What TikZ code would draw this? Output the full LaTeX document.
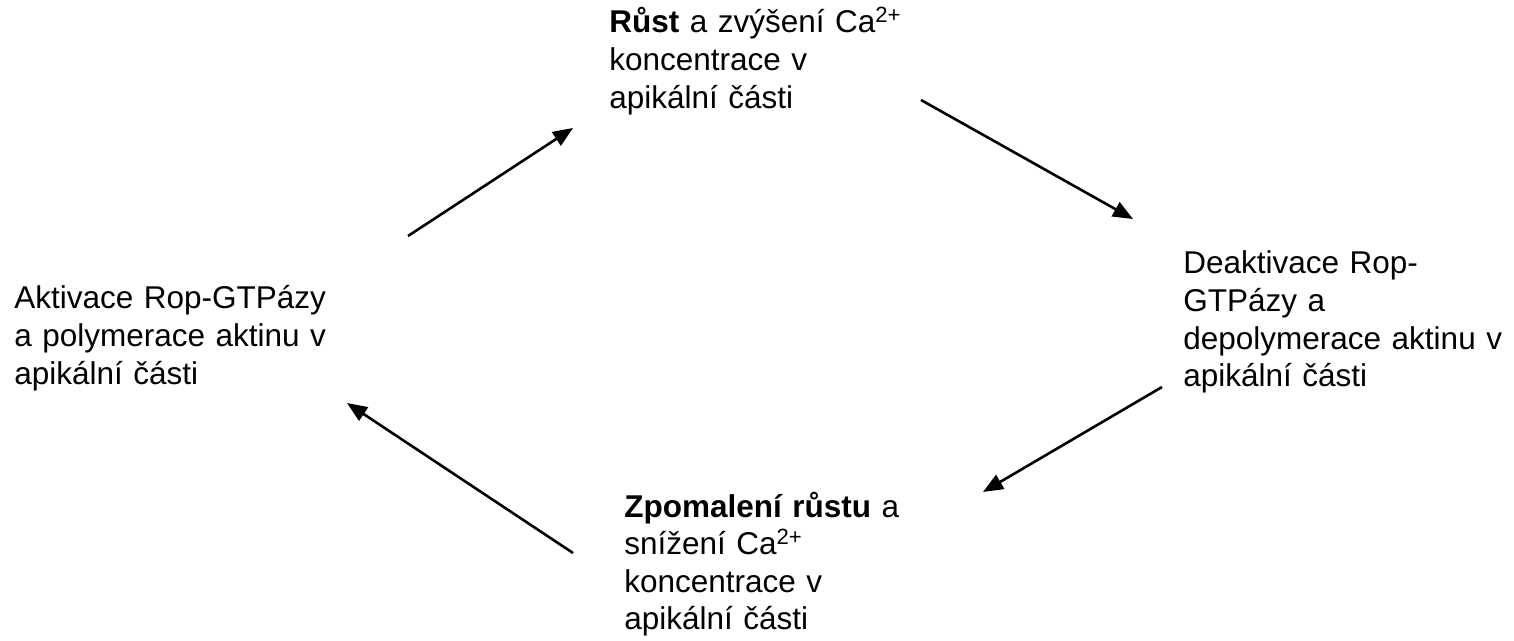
\documentclass[tikz,border=0pt]{standalone}
\usepackage{fontspec}
\setmainfont{Liberation Sans}
\usetikzlibrary{arrows.meta}

\begin{document}
\begin{tikzpicture}[x=0.5pt,y=-0.5pt,
    stage/.style={anchor=base west,inner sep=0pt,text width=7cm,align=left,
      font=\fontsize{15.75}{18.8}\selectfont},
    cyc/.style={line width=1.3pt,-{Triangle[length=10pt,width=8pt]}}]
  \useasboundingbox (0,0) rectangle (1514,641);
  % stages of the cycle
  \node[stage] (aktiv) at (14,309) {Aktivace Rop-GTPázy\\a polymerace aktinu v\\apikální části};
  \node[stage] (rust) at (609,33) {\textbf{Růst} a zvýšení Ca\textsuperscript{2+}\\koncentrace v\\apikální části};
  \node[stage] (deakt) at (1183,274) {Deaktivace Rop-\\GTPázy a\\depolymerace aktinu v\\apikální části};
  \node[stage] (zpom) at (624,517) {\textbf{Zpomalení růstu} a\\snížení Ca\textsuperscript{2+}\\koncentrace v\\apikální části};
  % arrow ends
  \coordinate (a1s) at (408,236); \coordinate (a1e) at (573,128);
  \coordinate (a2s) at (921,100); \coordinate (a2e) at (1133,219);
  \coordinate (a3s) at (1162,387); \coordinate (a3e) at (983,492);
  \coordinate (a4s) at (573,553); \coordinate (a4e) at (347,403);
  \draw[cyc] (a1s) -- (a1e);
  \draw[cyc] (a2s) -- (a2e);
  \draw[cyc] (a3s) -- (a3e);
  \draw[cyc] (a4s) -- (a4e);
\end{tikzpicture}
\end{document}
